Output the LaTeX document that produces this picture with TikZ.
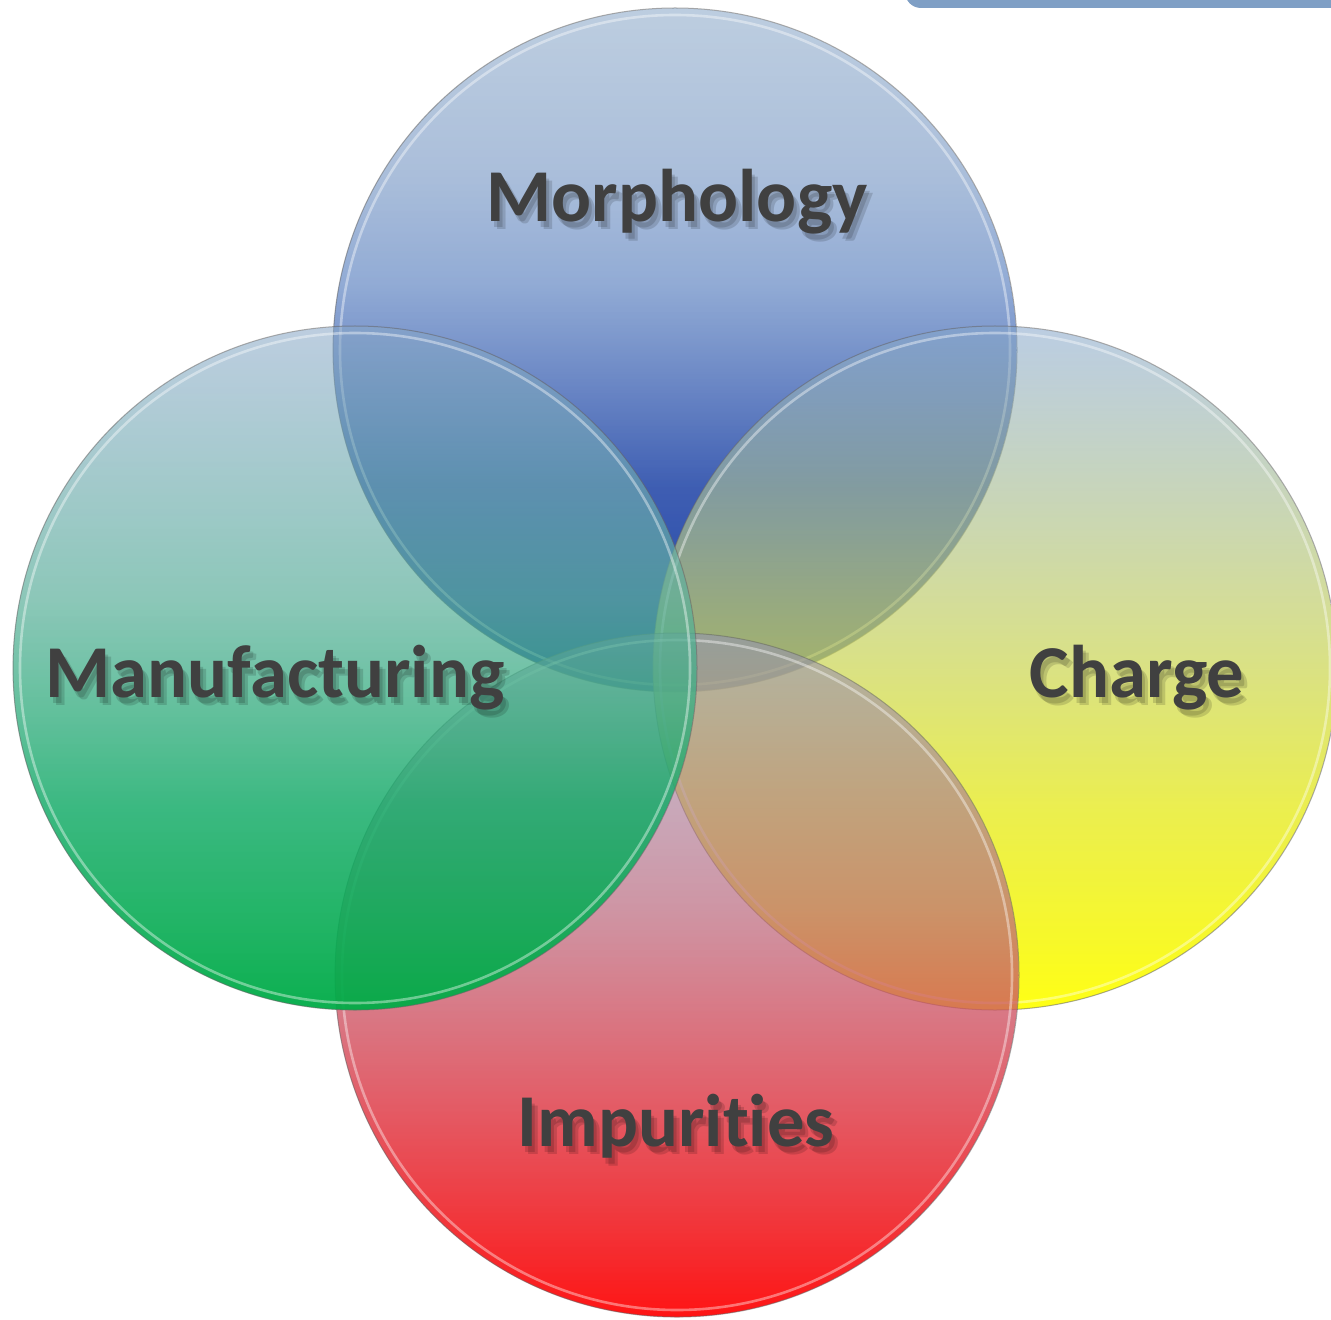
\documentclass[tikz,border=0pt]{standalone}
\usepackage{fontspec}
\setmainfont[Ligatures=NoCommon]{Carlito}
\usetikzlibrary{fadings,calc}

% Vertical colour ramps of the four discs (bbox maps to 25bp..75bp)
\pgfdeclareverticalshading{morphramp}{100bp}{%
  rgb(0bp)=(0.078,0.216,0.627); rgb(25bp)=(0.078,0.216,0.627);
  rgb(40bp)=(0.09,0.24,0.64); rgb(55bp)=(0.40,0.54,0.77);
  rgb(63bp)=(0.49,0.61,0.78);
  rgb(75bp)=(0.53,0.65,0.78); rgb(100bp)=(0.53,0.65,0.78)}
\pgfdeclareverticalshading{manuramp}{100bp}{%
  rgb(0bp)=(0,0.675,0.275); rgb(25bp)=(0,0.675,0.275);
  rgb(40bp)=(0.078,0.671,0.408); rgb(55bp)=(0.365,0.694,0.612);
  rgb(75bp)=(0.53,0.65,0.78); rgb(100bp)=(0.53,0.65,0.78)}
\pgfdeclareverticalshading{chargeramp}{100bp}{%
  rgb(0bp)=(1,1,0.03); rgb(25bp)=(1,1,0.03);
  rgb(40bp)=(0.906,0.922,0.176); rgb(55bp)=(0.761,0.812,0.443);
  rgb(75bp)=(0.52,0.65,0.80); rgb(100bp)=(0.52,0.65,0.80)}
\pgfdeclareverticalshading{impurramp}{100bp}{%
  rgb(0bp)=(1,0.03,0.03); rgb(25bp)=(1,0.03,0.03);
  rgb(40bp)=(0.875,0.22,0.267); rgb(55bp)=(0.733,0.42,0.502);
  rgb(75bp)=(0.576,0.576,0.718); rgb(100bp)=(0.576,0.576,0.718)}

% Discs are more see-through at the top than at the bottom
\tikzfading[name=glassfade, top color=transparent!45, bottom color=transparent!5]

\definecolor{labelgray}{HTML}{404040}
\definecolor{barblue}{HTML}{7F9FC5}

\tikzset{
  glassfill/.style={path fading=glassfade, fit fading=true},
  glassrim/.style={draw=white, draw opacity=0.4, line width=1.3pt},
  glassedge/.style={draw=black!60, draw opacity=0.55, line width=0.5pt},
  venntext/.style={font=\bfseries\fontsize{37.3}{38}\selectfont, text=labelgray, anchor=base, inner sep=0pt},
  vennshadow/.style={font=\bfseries\fontsize{37.3}{38}\selectfont, text=black, text opacity=0.14, anchor=base, inner sep=0pt},
}

% one glassy disc: centre, colour ramp
\newcommand\glassdisc[2]{%
  \shade[shading=#2, glassfill] (#1) circle[radius=342];
  \draw[glassrim] (#1) circle[radius=335];
  \draw[glassedge] (#1) circle[radius=342];
}
% one label with a soft drop shadow: name, base point, text
\newcommand\shadowlabel[3]{%
  \foreach \dx/\dy [count=\k] in {3/6,6/8}
    \node[vennshadow] (#1-shadow-\k) at ($(#2)+(\dx,\dy)$) {#3};
  \node[venntext] (#1) at (#2) {#3};
}

\begin{document}
\begin{tikzpicture}[x=0.5pt, y=-0.5pt]
  \useasboundingbox (0,0) rectangle (1331,1320);
  \clip (0,0) rectangle (1331,1320);
  \fill[white] (0,0) rectangle (1331,1320);

  % strip at the top right
  \fill[barblue, rounded corners=8] (905,-30) rectangle (1360,8);

  % disc centres
  \coordinate (morph)  at (675,350);
  \coordinate (charge) at (995,668);
  \coordinate (impur)  at (677,975);
  \coordinate (manu)   at (355,668);

  \glassdisc{morph}{morphramp}
  \glassdisc{charge}{chargeramp}
  \glassdisc{impur}{impurramp}
  \glassdisc{manu}{manuramp}

  % label base points
  \coordinate (morphbase)  at (677,222);
  \coordinate (manubase)   at (275,697);
  \coordinate (chargebase) at (1137,697);
  \coordinate (impurbase)  at (676,1146);

  \shadowlabel{morphlabel}{morphbase}{Morphology}
  \shadowlabel{manulabel}{manubase}{Manufacturing}
  \shadowlabel{chargelabel}{chargebase}{Charge}
  \shadowlabel{impurlabel}{impurbase}{Impurities}
\end{tikzpicture}
\end{document}
